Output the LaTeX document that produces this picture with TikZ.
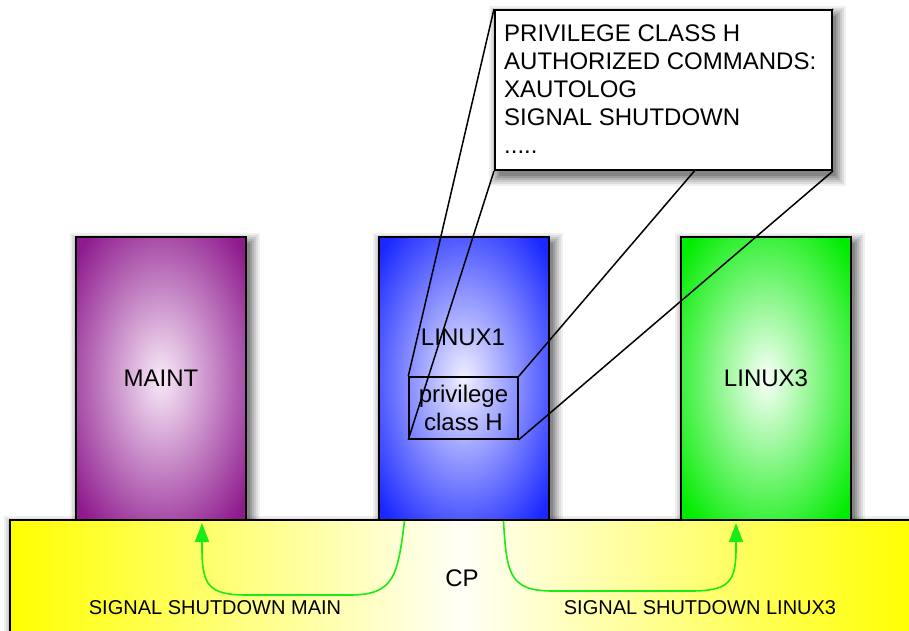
\documentclass[tikz,border=0pt]{standalone}
\usepackage{fontspec}
\setmainfont{Liberation Sans}
\usetikzlibrary{arrows.meta,calc}
\pgfdeclarelayer{shadowlayer}
\pgfdeclarelayer{topshadow}
\pgfdeclarelayer{front}
\pgfsetlayers{shadowlayer,main,topshadow,front}
\definecolor{purp}{RGB}{142,26,142}
\definecolor{purpin}{RGB}{248,234,248}
\definecolor{blu}{RGB}{26,40,255}
\definecolor{bluin}{RGB}{240,240,255}
\definecolor{grn}{RGB}{0,236,0}
\definecolor{grnin}{RGB}{248,255,248}
\definecolor{sig}{RGB}{25,235,25}
% radial glows that reach the full box colour near the corners
\pgfdeclareradialshading{glowpurple}{\pgfpoint{0bp}{0bp}}{color(0bp)=(purpin); color(33bp)=(purp); color(50bp)=(purp)}
\pgfdeclareradialshading{glowblue}{\pgfpoint{0bp}{0bp}}{color(0bp)=(bluin); color(33bp)=(blu); color(50bp)=(blu)}
\pgfdeclareradialshading{glowgreen}{\pgfpoint{0bp}{0bp}}{color(0bp)=(grnin); color(33bp)=(grn); color(50bp)=(grn)}
% soft drop shadow behind a rectangular node, built from stacked translucent fills
\newcommand\boxshade[1]{%
  \foreach \r/\o in {9/0.06,7/0.08,5/0.09,3/0.11,1/0.13,-1/0.15}{%
    \fill[black,fill opacity=\o] ($(#1.south west)+(4-\r,6+\r)$) rectangle ($(#1.north east)+(4+\r,6-\r)$);}}
\begin{document}
\begin{tikzpicture}[x=1pt,y=-1pt,
  every node/.style={font=\fontsize{24}{28}\selectfont},
  sysbox/.style={draw=black,line width=2pt,minimum width=170pt,minimum height=283pt},
  frame/.style={draw=black,line width=1.5pt},
  sigarrow/.style={draw=sig,line width=1.6pt,-{Triangle[length=19pt,width=14pt]}},
  small/.style={font=\fontsize{20}{24}\selectfont}]
\useasboundingbox (0,0) rectangle (909,630);

% system boxes
\node[sysbox,shading=glowpurple] (maint) at (161,378.5) {MAINT};
\node[sysbox,shading=glowblue] (linux1) at (463.5,378.5) {};
\node[sysbox,shading=glowgreen] (linux3) at (766,378.5) {LINUX3};
\node (linux1label) at (463,337) {LINUX1};

% control program strip
\node[draw=black,line width=2pt,minimum width=904pt,minimum height=116pt,
      left color=yellow,right color=yellow,middle color=yellow!3] (cp) at (462,578) {CP};

\begin{pgfonlayer}{shadowlayer}
\boxshade{maint}
\boxshade{linux1}
\boxshade{linux3}
\boxshade{cp}
\end{pgfonlayer}

% privilege class box inside LINUX1
\node[frame,minimum width=109pt,minimum height=62pt,align=center,inner sep=0pt] (priv) at (463.5,408) {privilege\\class H};

% callout with the command list
\begin{pgfonlayer}{front}
\node[draw=black,line width=2pt,fill=white,minimum width=337pt,minimum height=160pt] (callout) at (663.5,90) {};
\node[anchor=north west,align=left,inner sep=0pt] (calltext) at (504,25)
  {PRIVILEGE CLASS H\\AUTHORIZED COMMANDS:\\XAUTOLOG\\SIGNAL SHUTDOWN\\.....};
\end{pgfonlayer}
\begin{pgfonlayer}{topshadow}
\boxshade{callout}
\end{pgfonlayer}

% projection lines from the callout to the privilege box
\draw[frame] (callout.north west) -- (priv.north west);
\draw[frame] (callout.south west) -- (priv.south west);
\draw[frame] (callout.north east) -- (priv.north east);
\draw[frame] (callout.south east) -- (priv.south east);

% shutdown signals
\coordinate (s1) at ($(linux1.south west)+(27,0)$);
\coordinate (t1) at ($(maint.south)+(41,2)$);
\coordinate (s2) at ($(linux1.south east)+(-46,0)$);
\coordinate (t2) at ($(linux3.south)+(-30,2)$);
\draw[sigarrow] (s1) .. controls ($(s1)+(-7,55)$) and ($(s1)+(-10,74)$) .. ($(s1)+(-55,74)$)
  -- ($(t1)+(45,72)$) .. controls ($(t1)+(6,72)$) and ($(t1)+(0,62)$) .. ($(t1)+(0,25)$) -- (t1);
\draw[sigarrow] (s2) .. controls ($(s2)+(3,55)$) and ($(s2)+(7,70)$) .. ($(s2)+(50,70)$)
  -- ($(t2)+(-45,68)$) .. controls ($(t2)+(-6,68)$) and ($(t2)+(0,58)$) .. ($(t2)+(0,25)$) -- (t2);

\node[small] (lblmain) at (215,608) {SIGNAL SHUTDOWN MAIN};
\node[small] (lbllinux3) at (700,608) {SIGNAL SHUTDOWN LINUX3};
\end{tikzpicture}
\end{document}
